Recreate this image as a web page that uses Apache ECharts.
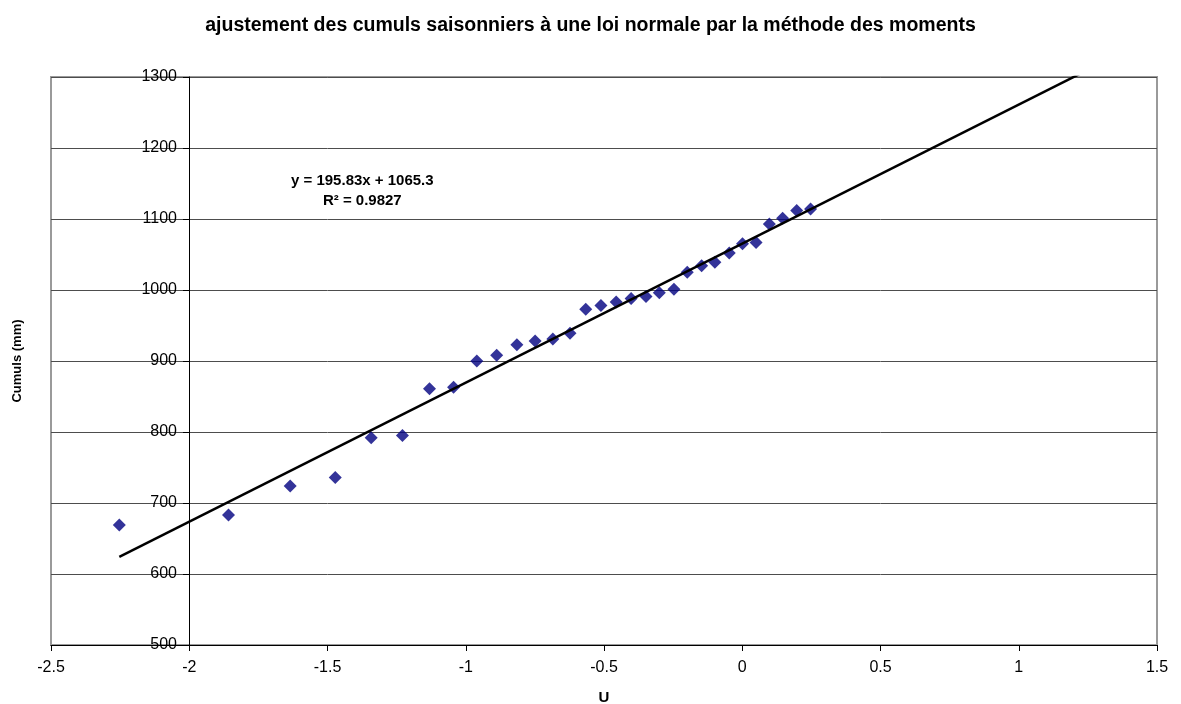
<!DOCTYPE html>
<html>
<head>
<meta charset="utf-8">
<title>Ajustement des cumuls saisonniers</title>
<script src="https://cdn.jsdelivr.net/npm/echarts@6/dist/echarts.min.js"></script>
<style>
  html, body { margin: 0; padding: 0; background: #ffffff; }
  #chart { width: 1181px; height: 704px; }
</style>
</head>
<body>
<div id="chart"></div>
<script>
// Variable réduite U (quantiles de la loi normale) pour chaque cumul classé
const uValues = [
  -2.253, -1.858, -1.635, -1.472, -1.342, -1.229, -1.131, -1.044,
  -0.960, -0.888, -0.815, -0.749, -0.685, -0.623, -0.566, -0.511,
  -0.456, -0.402, -0.348, -0.300, -0.247, -0.199, -0.147, -0.099,
  -0.047, 0.001, 0.050, 0.098, 0.146, 0.197, 0.247
];
// Cumuls saisonniers observés (mm), classés
const cumulValues = [
  669, 683, 724, 736, 792, 795, 861, 863,
  900, 908, 923, 928, 931, 939, 973, 978,
  983, 988, 991, 996, 1001, 1025, 1034, 1039,
  1052, 1065, 1067, 1093, 1101, 1112, 1114
];
// Droite d'ajustement (régression linéaire) et coefficient de détermination
const slope = 195.83;
const intercept = 1065.3;
const rSquared = 0.9827;
// Bornes et pas des axes
const xRange = [-2.5, 1.5, 0.5];
const yRange = [500, 1300, 100];

const font = '"Liberation Sans", Arial, sans-serif';
const points = uValues.map((u, i) => [u, cumulValues[i]]);
const trendStart = uValues[0];
const trendEnd = xRange[1];
const trend = [
  [trendStart, slope * trendStart + intercept],
  [trendEnd, slope * trendEnd + intercept]
];

const chart = echarts.init(document.getElementById('chart'), null, { renderer: 'canvas' });
chart.setOption({
  animation: false,
  backgroundColor: '#ffffff',
  title: {
    text: 'ajustement des cumuls saisonniers à une loi normale par la méthode des moments',
    left: 'center',
    top: 11,
    textStyle: { fontFamily: font, fontSize: 19.5, fontWeight: 'bold', color: '#000' }
  },
  grid: {
    left: 51, right: 24, top: 77, bottom: 59,
    outerBoundsMode: 'none',
    containLabel: false,
    show: true,
    backgroundColor: '#ffffff',
    borderColor: '#9a9a9a',
    borderWidth: 2
  },
  xAxis: {
    type: 'value',
    min: xRange[0], max: xRange[1], interval: xRange[2],
    name: 'U',
    nameLocation: 'middle',
    nameGap: 45,
    nameTextStyle: { fontFamily: font, fontSize: 15, fontWeight: 'bold', color: '#000' },
    axisLine: { show: true, onZero: false, lineStyle: { color: '#000', width: 1 } },
    axisTick: { show: true, inside: false, length: 6, lineStyle: { color: '#000' } },
    axisLabel: { fontFamily: font, fontSize: 16, color: '#000', margin: 15 },
    splitLine: { show: false }
  },
  yAxis: {
    type: 'value',
    min: yRange[0], max: yRange[1], interval: yRange[2],
    offset: -138,
    name: 'Cumuls (mm)',
    nameLocation: 'middle',
    nameRotate: 90,
    nameGap: 165,
    nameTextStyle: { fontFamily: font, fontSize: 13, fontWeight: 'bold', color: '#000' },
    axisLine: { show: true, onZero: false, lineStyle: { color: '#000', width: 1 } },
    axisTick: { show: true, inside: false, length: 6, lineStyle: { color: '#000' } },
    axisLabel: {
      fontFamily: font, fontSize: 16, color: '#000', margin: 12,
      formatter: (v) => String(v)
    },
    splitLine: { show: true, lineStyle: { color: '#4d4d4d', width: 1 } }
  },
  graphic: [{
    type: 'text',
    left: 291,
    top: 171,
    style: {
      text: 'y = ' + slope.toFixed(2) + 'x + ' + intercept.toFixed(1) + '\nR² = ' + rSquared.toFixed(4),
      fontFamily: font,
      fontSize: 15,
      fontWeight: 'bold',
      fill: '#000',
      align: 'center',
      lineHeight: 20,
      textAlign: 'center',
      x: 72
    }
  }],
  series: [
    {
      name: 'Cumuls',
      type: 'scatter',
      data: points,
      symbol: 'diamond',
      symbolSize: 13,
      itemStyle: { color: '#000080' },
      z: 3
    },
    {
      name: 'Ajustement linéaire',
      type: 'line',
      data: trend,
      showSymbol: false,
      symbol: 'none',
      clip: true,
      lineStyle: { color: '#000', width: 2.5 },
      z: 4
    }
  ]
});
</script>
</body>
</html>
